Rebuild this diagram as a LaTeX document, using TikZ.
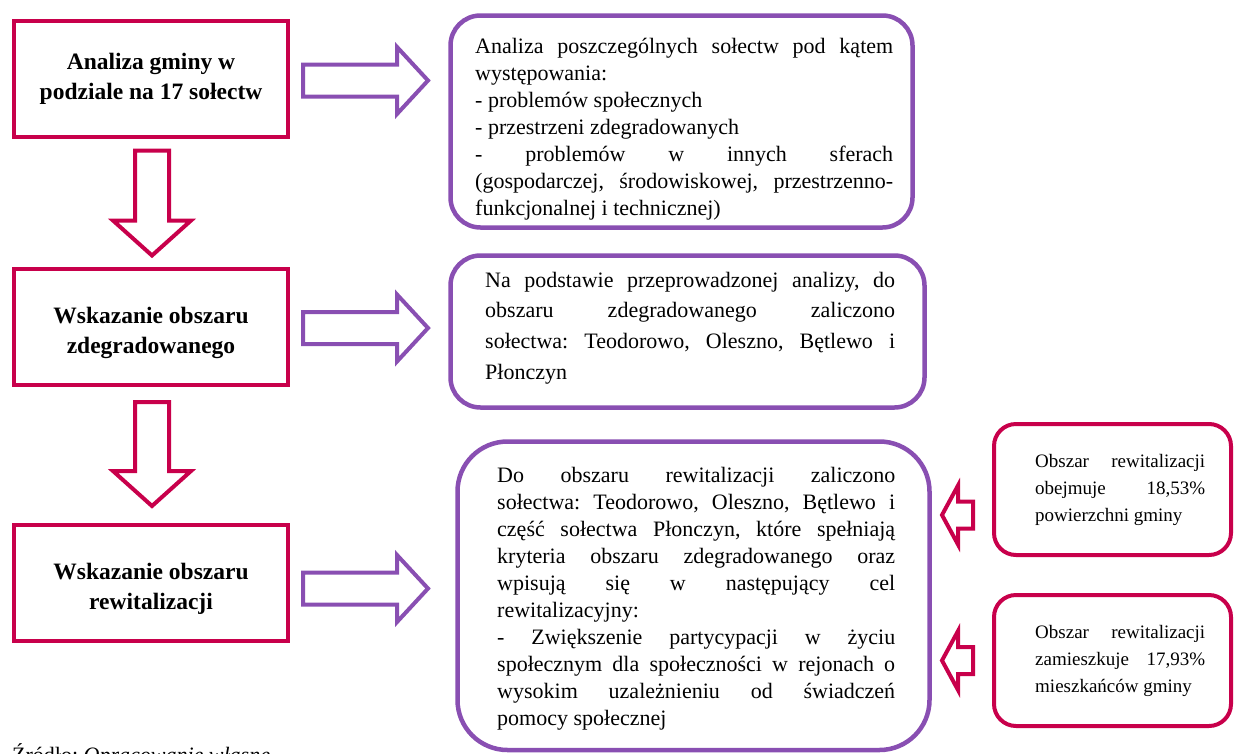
\documentclass[tikz,border=0pt]{standalone}
\usepackage{fontspec}
\setmainfont{Liberation Serif}
\usetikzlibrary{calc}
\definecolor{crim}{RGB}{200,0,75}
\definecolor{purp}{RGB}{137,79,178}
\frenchspacing
\begin{document}
\begin{tikzpicture}[x=1pt,y=-1pt,line join=miter,
  redbox/.style={draw=crim, line width=4pt, minimum width=274pt, minimum height=116pt, inner sep=0pt, outer sep=0pt},
  purpbox/.style={draw=purp, line width=4.5pt, rounded corners=30pt, inner sep=0pt, outer sep=0pt},
  smallbox/.style={draw=crim, line width=4pt, rounded corners=22pt, minimum width=237pt, minimum height=131pt, inner sep=0pt, outer sep=0pt},
  boldtext/.style={font=\fontsize{23.5}{30}\selectfont\bfseries, align=center, inner sep=0pt},
  bodytext/.style={text width=#1, inner sep=0pt, anchor=north west, align=justify,
     execute at begin node={\setlength{\parindent}{0pt}\leftskip=0pt\rightskip=0pt\parfillskip=0pt plus 1fil\tolerance=10000\hyphenpenalty=10000\frenchspacing\strut}},
  redline/.style={draw=crim, line width=4pt},
  purpline/.style={draw=purp, line width=4pt},
  dims/.code args={#1/#2/#3/#4}{\def\arL{#1}\def\arH{#2}\def\arS{#3}\def\arW{#4}},
  barrow/.pic={\draw[arrowline] (0,-\arS) -- (\arL-\arH,-\arS) -- (\arL-\arH,-\arW) -- (\arL,0)
      -- (\arL-\arH,\arW) -- (\arL-\arH,\arS) -- (0,\arS) -- cycle;}
]
\useasboundingbox (0,0) rectangle (1234,753);

% left column
\node[redbox] (b1) at (151,78.5) {};
\node[redbox] (b2) at (151,327) {};
\node[redbox] (b3) at (151,583) {};
\node[boldtext] (t1) at (b1.center) {Analiza gminy w\\podziale na 17 sołectw};
\node[boldtext] (t2) at ($(b2.center)+(0,6)$) {Wskazanie obszaru\\zdegradowanego};
\node[boldtext] (t3) at ($(b3.center)+(0,5.5)$) {Wskazanie obszaru\\rewitalizacji};

% purple boxes
\node[purpbox, minimum width=462pt, minimum height=212pt] (pA) at (681.5,121.5) {};
\node[purpbox, minimum width=474pt, minimum height=152pt] (pB) at (687.5,331.5) {};
\node[purpbox, rounded corners=50pt, minimum width=472pt, minimum height=308.5pt] (pC) at (693.5,595.75) {};

% small red boxes
\node[smallbox] (rD) at (1112.5,489.5) {};
\node[smallbox] (rE) at (1112.5,660.5) {};

% texts
\node[bodytext=418pt, font=\fontsize{22}{27}\selectfont] (tA) at (475,34.1)
{Analiza poszczególnych sołectw pod kątem\linebreak występowania:\par
- problemów społecznych\par
- przestrzeni zdegradowanych\par
- problemów w innych sferach\linebreak (gospodarczej, środowiskowej, przestrzenno-\linebreak funkcjonalnej i technicznej)};

\node[bodytext=410pt, font=\fontsize{22}{30.7}\selectfont] (tB) at (485,265.5)
{Na podstawie przeprowadzonej analizy, do\linebreak obszaru zdegradowanego zaliczono\linebreak sołectwa: Teodorowo, Oleszno, Bętlewo i\linebreak Płonczyn};

\node[bodytext=398pt, font=\fontsize{22}{27}\selectfont] (tC) at (497,463.1)
{Do obszaru rewitalizacji zaliczono\linebreak sołectwa: Teodorowo, Oleszno, Bętlewo i\linebreak część sołectwa Płonczyn, które spełniają\linebreak kryteria obszaru zdegradowanego oraz\linebreak wpisują się w następujący cel\linebreak rewitalizacyjny:\par
- Zwiększenie partycypacji w życiu\linebreak społecznym dla społeczności w rejonach o\linebreak wysokim uzależnieniu od świadczeń\linebreak pomocy społecznej};

\node[bodytext=170pt, font=\fontsize{19}{27}\selectfont] (tD) at (1035,448.1)
{Obszar rewitalizacji\linebreak obejmuje 18,53\%\linebreak powierzchni gminy};
\node[bodytext=170pt, font=\fontsize{19}{27}\selectfont] (tE) at (1035,619.1)
{Obszar rewitalizacji\linebreak zamieszkuje 17,93\%\linebreak mieszkańców gminy};

\node[anchor=base west, inner sep=0pt, font=\fontsize{22}{27}\selectfont] (src) at (12,762)
{Źródło: \textit{Opracowanie własne}};

% block arrows
\pic[arrowline/.style={purpline}, dims=125/31/16/33.5] at ($(b1.east)+(15,2)$) {barrow};
\pic[arrowline/.style={purpline}, dims=125/31/16/33.5] at ($(b2.east)+(15,1)$) {barrow};
\pic[arrowline/.style={purpline}, dims=125/31/16/33.5] at ($(b3.east)+(15,5.5)$) {barrow};

\pic[arrowline/.style={redline}, dims=105/35/17/39, rotate=-90] at ($(b1.south)+(1,14)$) {barrow};
\pic[arrowline/.style={redline}, dims=104/35/17/39, rotate=-90] at ($(b2.south)+(1,17)$) {barrow};

\pic[arrowline/.style={redline}, dims=31/16/13.5/29.5, rotate=180] at ($(rD.west)+(-21,25.5)$) {barrow};
\pic[arrowline/.style={redline}, dims=31/16/13.5/29.5, rotate=180] at ($(rE.west)+(-21,0)$) {barrow};
\end{tikzpicture}
\end{document}
